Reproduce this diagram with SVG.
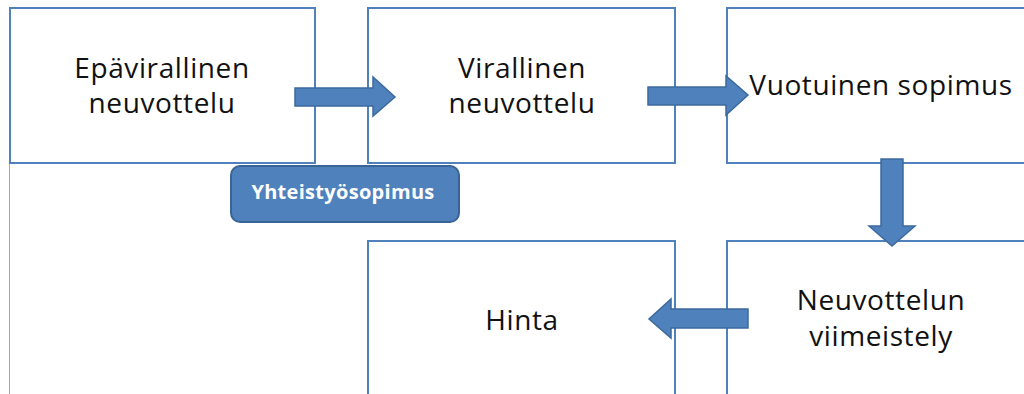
<svg xmlns="http://www.w3.org/2000/svg" width="1024" height="394" viewBox="0 0 1024 394">
  <style>
    .box { fill: #ffffff; stroke: #4f81bd; stroke-width: 2; }
    .lbl { font-family: "Open Sans", "Liberation Sans", sans-serif; font-size: 28px; letter-spacing: 0.6px; fill: #111111; text-anchor: middle; }
    .arrow { fill: #4f81bd; stroke: #3d6a9e; stroke-width: 1.5; stroke-linejoin: miter; }
    .badge { fill: #4f81bd; stroke: #3b6496; stroke-width: 2; }
    .badge-text { font-family: "Open Sans", "Liberation Sans", sans-serif; font-weight: bold; font-size: 20px; letter-spacing: 0.3px; fill: #ffffff; text-anchor: middle; }
  </style>
  <rect width="1024" height="394" fill="#ffffff"/>
  <!-- page edge on the left -->
  <line x1="9.5" y1="163" x2="9.5" y2="394" stroke="#a6a6a6" stroke-width="1"/>

  <g id="node-epavirallinen">
    <rect class="box" x="10" y="8" width="305" height="155"/>
    <text class="lbl" x="162" y="78">Epävirallinen</text>
    <text class="lbl" x="162" y="113">neuvottelu</text>
  </g>
  <g id="node-virallinen">
    <rect class="box" x="368" y="8" width="307" height="155"/>
    <text class="lbl" x="522" y="78">Virallinen</text>
    <text class="lbl" x="522" y="113">neuvottelu</text>
  </g>
  <g id="node-vuotuinen">
    <rect class="box" x="727" y="8" width="308" height="155"/>
    <text class="lbl" x="881" y="95">Vuotuinen sopimus</text>
  </g>
  <g id="node-hinta">
    <rect class="box" x="368" y="241" width="307" height="160"/>
    <text class="lbl" x="522" y="330">Hinta</text>
  </g>
  <g id="node-viimeistely">
    <rect class="box" x="727" y="241" width="308" height="160"/>
    <text class="lbl" x="881" y="310">Neuvottelun</text>
    <text class="lbl" x="881" y="346">viimeistely</text>
  </g>
  <g id="node-yhteistyosopimus">
    <rect class="badge" x="231" y="166" width="228" height="56" rx="9"/>
    <text class="badge-text" x="343" y="199">Yhteistyösopimus</text>
  </g>

  <g id="connectors">
    <path class="arrow" d="M295,88 H373 V77 L395,97 L373,116 V106 H295 Z"/>
    <path class="arrow" d="M648,87 H726 V76 L748,95 L726,115 V105 H648 Z"/>
    <path class="arrow" d="M881,159 H903 V226 H915 L892,246 L869,226 H881 Z"/>
    <path class="arrow" d="M748,309 V328 H671 V338 L649,319 L671,299 V309 Z"/>
  </g>
</svg>
